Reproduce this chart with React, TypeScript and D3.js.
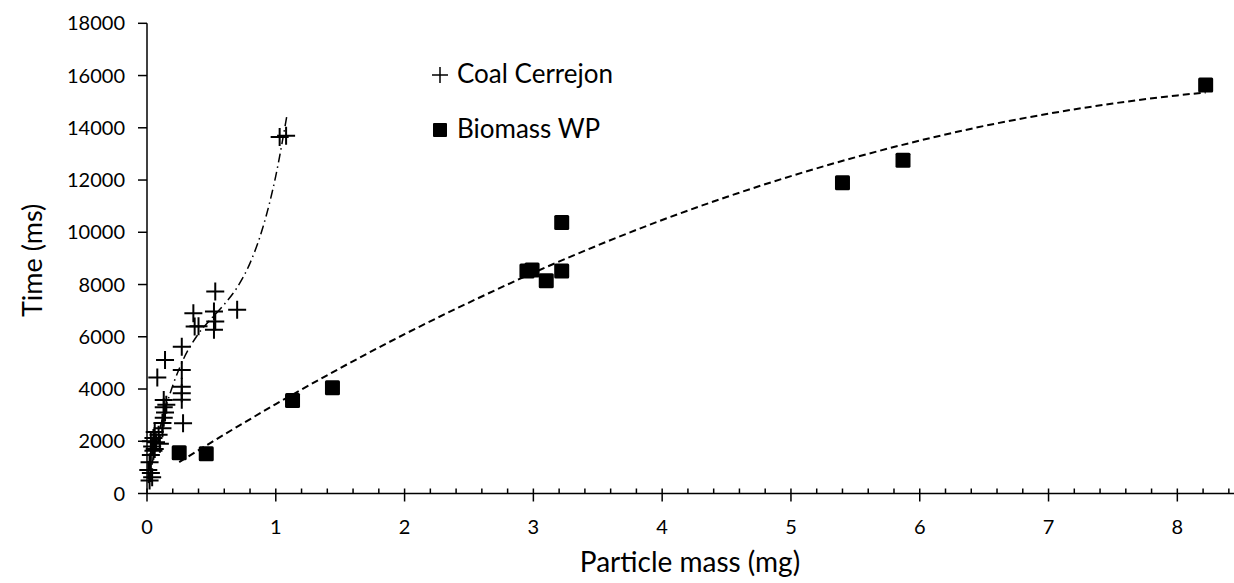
import React from "react";
import * as d3 from "d3";

// Coal Cerrejon: particle mass (mg) vs time (ms)
const coalMass = [
  1.08, 1.03, 0.7, 0.53, 0.52, 0.53, 0.52, 0.36, 0.37, 0.4,
  0.27, 0.27, 0.14, 0.08, 0.27, 0.27, 0.27, 0.28, 0.13, 0.13,
  0.14, 0.13, 0.12, 0.12, 0.06, 0.05, 0.07, 0.04, 0.05, 0.03,
  0.06, 0.02, 0.01, 0.03, 0.04, 0.02, 0.1, 0.09, 0.15, 0.03,
];
const coalTime = [
  13700, 13650, 7030, 7730, 6970, 6580, 6270, 6900, 6390, 6400,
  5620, 4730, 5110, 4440, 4090, 3840, 3590, 2690, 3580, 3300,
  3100, 2900, 2700, 2500, 2350, 2120, 1960, 1800, 1640, 1470,
  1700, 1200, 900, 780, 620, 500, 1900, 2250, 3400, 2000,
];

// Biomass WP
const biomassMass = [8.22, 5.87, 5.4, 3.22, 3.22, 2.95, 2.99, 3.1, 1.44, 1.13, 0.46, 0.25];
const biomassTime = [15640, 12760, 11900, 10370, 8520, 8520, 8560, 8140, 4050, 3560, 1520, 1560];

// trend lines
const coalTrendMass = [0.01, 0.08, 0.155, 0.256, 0.39, 0.5, 0.6, 0.7, 0.8, 0.9, 1.0, 1.087];
const coalTrendTime = [400, 2080, 3450, 4850, 6050, 6700, 7240, 7890, 8820, 10190, 12160, 14490];
const bioTrendMass = [0.25, 0.5, 1, 1.5, 2, 2.5, 3, 3.5, 4, 4.5, 5, 5.5, 6, 6.5, 7, 7.5, 8, 8.22];
const bioTrendTime = [
  1200, 1960, 3420, 4800, 6100, 7310, 8450, 9500, 10470, 11350,
  12150, 12870, 13510, 14070, 14540, 14930, 15240, 15350,
];

const xTicks = [0, 1, 2, 3, 4, 5, 6, 7, 8];
const yTicks = [0, 2000, 4000, 6000, 8000, 10000, 12000, 14000, 16000, 18000];

const FONT = "Lato, 'Open Sans', sans-serif";

export default function App() {
  const W = 1234;
  const H = 583;
  const x = d3.scaleLinear().domain([0, 8.44]).range([147, 1234]);
  const y = d3.scaleLinear().domain([0, 18000]).range([493.5, 23.3]);

  const minor = d3.range(0.2, 8.44, 0.2).filter((v) => Math.abs(v - Math.round(v)) > 0.01);

  const line = d3
    .line<[number, number]>()
    .x((d) => x(d[0]))
    .y((d) => y(d[1]))
    .curve(d3.curveMonotoneX);

  const coalTrend = line(coalTrendMass.map((m, i) => [m, coalTrendTime[i]]));
  const bioTrend = line(bioTrendMass.map((m, i) => [m, bioTrendTime[i]]));

  const cross = "M-9,0H9M0,-9V9";

  return (
    <svg
      width={W}
      height={H}
      style={{ position: "absolute", left: 0, top: 0, background: "#fff", fontFamily: FONT }}
    >
      {/* axes */}
      <line x1={x(0)} x2={x(0)} y1={y(18000)} y2={y(0)} stroke="#000" strokeWidth={1.5} />
      <line x1={x(0)} x2={W} y1={y(0)} y2={y(0)} stroke="#000" strokeWidth={1.5} />
      {yTicks.map((t) => (
        <g key={t}>
          <line x1={x(0) - 9} x2={x(0)} y1={y(t)} y2={y(t)} stroke="#000" strokeWidth={1.5} />
          <text x={125} y={y(t)} dy="0.35em" textAnchor="end" fontSize={20} fill="#000">
            {t}
          </text>
        </g>
      ))}
      {xTicks.map((t) => (
        <g key={t}>
          <line x1={x(t)} x2={x(t)} y1={y(0) - 5} y2={y(0) + 8} stroke="#000" strokeWidth={1.5} />
          <text x={x(t)} y={534} textAnchor="middle" fontSize={20} fill="#000">
            {t}
          </text>
        </g>
      ))}
      {minor.map((t) => (
        <line key={t} x1={x(t)} x2={x(t)} y1={y(0) - 5} y2={y(0)} stroke="#000" strokeWidth={1.5} />
      ))}

      <text x={690} y={572} textAnchor="middle" fontSize={28} fill="#000">
        Particle mass (mg)
      </text>
      <text
        transform={`translate(42, ${y(9000) + 2}) rotate(-90)`}
        textAnchor="middle"
        fontSize={27}
        fill="#000"
      >
        Time (ms)
      </text>

      {/* trend lines */}
      <path d={bioTrend ?? ""} fill="none" stroke="#000" strokeWidth={2} strokeDasharray="7,4" />
      <path d={coalTrend ?? ""} fill="none" stroke="#000" strokeWidth={1.5} strokeDasharray="9,4,1.5,4" />

      {/* biomass */}
      {biomassMass.map((m, i) => (
        <rect
          key={i}
          x={x(m) - 7.5}
          y={y(biomassTime[i]) - 7.5}
          width={15}
          height={15}
          rx={1.5}
          fill="#000"
        />
      ))}

      {/* coal */}
      {coalMass.map((m, i) => (
        <path
          key={i}
          d={cross}
          transform={`translate(${x(m)},${y(coalTime[i])})`}
          stroke="#000"
          strokeWidth={2}
          fill="none"
        />
      ))}

      {/* legend */}
      <path d="M-8,0H8M0,-8V8" transform="translate(440,75)" stroke="#000" strokeWidth={1.5} />
      <text x={457} y={83} fontSize={26} fill="#000">
        Coal Cerrejon
      </text>
      <rect x={433} y={123} width={14} height={14} rx={1} fill="#000" />
      <text x={457} y={138} fontSize={26} fill="#000">
        Biomass WP
      </text>
    </svg>
  );
}
